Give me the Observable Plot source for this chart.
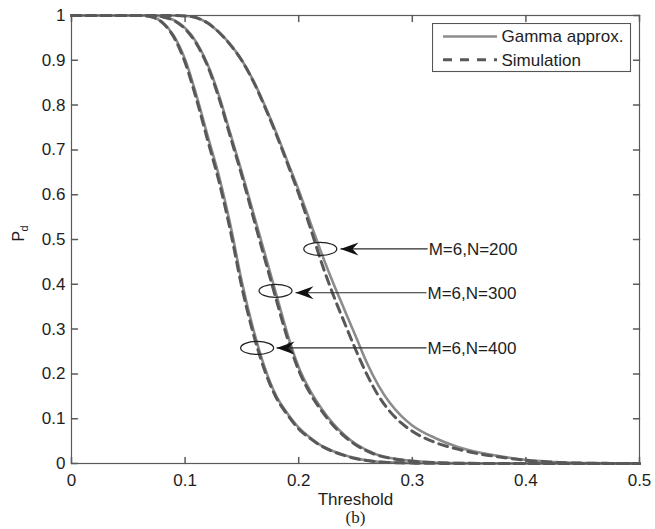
<!DOCTYPE html>
<html><head><meta charset="utf-8">
<script src="https://cdn.jsdelivr.net/npm/d3@7"></script>
<script src="https://cdn.jsdelivr.net/npm/@observablehq/plot@0.6"></script>
<style>
html,body{margin:0;padding:0;background:#fff;}
#wrap{position:relative;width:655px;height:529px;}
#legend{position:absolute;left:432px;top:23px;}
</style></head><body><div id="wrap"></div>
<script>
// Threshold grid and Pd values
const thresholds = [0, 0.05, 0.06, 0.07, 0.08, 0.09, 0.10, 0.11, 0.12, 0.13, 0.14, 0.15, 0.16, 0.17, 0.18, 0.19, 0.20, 0.21, 0.22, 0.23, 0.24, 0.25, 0.26, 0.27, 0.28, 0.29, 0.30, 0.32, 0.34, 0.36, 0.38, 0.40, 0.42, 0.45, 0.50];
const gamma400 = [1, 1, 1, 0.997, 0.985, 0.955, 0.902, 0.822, 0.73, 0.64, 0.531, 0.405, 0.30, 0.215, 0.152, 0.112, 0.08, 0.058, 0.04, 0.028, 0.019, 0.012, 0.007, 0.004, 0.0025, 0.0015, 0.001, 0.0004, 0.0001, 0, 0, 0, 0, 0, 0];
const sim400   = [1, 1, 1, 0.997, 0.984, 0.952, 0.895, 0.813, 0.72, 0.628, 0.518, 0.393, 0.29, 0.208, 0.148, 0.109, 0.077, 0.056, 0.039, 0.027, 0.018, 0.011, 0.0065, 0.0037, 0.0023, 0.0014, 0.0009, 0.0003, 0.0001, 0, 0, 0, 0, 0, 0];
const gamma300 = [1, 1, 1, 1, 0.997, 0.99, 0.972, 0.94, 0.89, 0.82, 0.735, 0.65, 0.56, 0.47, 0.38, 0.29, 0.215, 0.163, 0.123, 0.09, 0.064, 0.044, 0.03, 0.019, 0.013, 0.009, 0.006, 0.002, 0.0008, 0.0003, 0, 0, 0, 0, 0];
const sim300   = [1, 1, 1, 1, 0.997, 0.989, 0.97, 0.937, 0.886, 0.814, 0.728, 0.642, 0.55, 0.458, 0.368, 0.28, 0.208, 0.157, 0.118, 0.086, 0.061, 0.042, 0.028, 0.018, 0.012, 0.008, 0.005, 0.0018, 0.0007, 0.0002, 0, 0, 0, 0, 0];
const gamma200 = [1, 1, 1, 1, 1, 1, 0.999, 0.995, 0.983, 0.962, 0.935, 0.90, 0.855, 0.80, 0.74, 0.675, 0.61, 0.54, 0.47, 0.405, 0.345, 0.285, 0.225, 0.175, 0.136, 0.107, 0.085, 0.057, 0.037, 0.024, 0.015, 0.008, 0.004, 0.001, 0];
const sim200   = [1, 1, 1, 1, 1, 1, 0.999, 0.995, 0.983, 0.962, 0.934, 0.899, 0.853, 0.797, 0.736, 0.67, 0.602, 0.528, 0.449, 0.379, 0.316, 0.255, 0.199, 0.152, 0.117, 0.091, 0.072, 0.047, 0.032, 0.021, 0.0135, 0.0072, 0.0035, 0.0008, 0];

const xTicks = [0, 0.1, 0.2, 0.3, 0.4, 0.5];
const xTickLabels = ["0", "0.1", "0.2", "0.3", "0.4", "0.5"];
const yTicks = [0, 0.1, 0.2, 0.3, 0.4, 0.5, 0.6, 0.7, 0.8, 0.9, 1];
const yTickLabels = ["0", "0.1", "0.2", "0.3", "0.4", "0.5", "0.6", "0.7", "0.8", "0.9", "1"];

// annotations
const annLabels = ["M=6,N=200", "M=6,N=300", "M=6,N=400"];
const ellipseX = [0.219, 0.1796, 0.1634];
const ellipseY = [0.479, 0.3855, 0.258];
const arrowTipX = [0.2368, 0.1972, 0.1805];
const arrowY = [0.479, 0.381, 0.258];
const labelX = [0.3135, 0.3125, 0.3125];

const legendLabels = ["Gamma approx.", "Simulation"];

const toRows = (vals, name) => thresholds.map((t, i) => ({x: t, y: vals[i], s: name}));
const solidRows = [...toRows(gamma400, "400"), ...toRows(gamma300, "300"), ...toRows(gamma200, "200")];
const dashRows = [...toRows(sim400, "400"), ...toRows(sim300, "300"), ...toRows(sim200, "200")];
const ann = annLabels.map((l, i) => ({label: l, ex: ellipseX[i], ey: ellipseY[i], tx: arrowTipX[i], ay: arrowY[i], lx: labelX[i]}));

const ellipseSymbol = {draw(ctx) {
  const rx = 16.5, ry = 6.5, k = 0.5523;
  ctx.moveTo(rx, 0);
  ctx.bezierCurveTo(rx, ry * k, rx * k, ry, 0, ry);
  ctx.bezierCurveTo(-rx * k, ry, -rx, ry * k, -rx, 0);
  ctx.bezierCurveTo(-rx, -ry * k, -rx * k, -ry, 0, -ry);
  ctx.bezierCurveTo(rx * k, -ry, rx, -ry * k, rx, 0);
  ctx.closePath();
}};
const headSymbol = {draw(ctx) {
  ctx.moveTo(0, 0); ctx.lineTo(18, -6.5); ctx.lineTo(12, 0); ctx.lineTo(18, 6.5); ctx.closePath();
}};
const tickShape = {draw(ctx, l) { ctx.moveTo(0, 0); ctx.lineTo(0, -l); }};

const axisColor = "#5a5a5a";
const fmtX = d => xTickLabels[xTicks.indexOf(d)];
const fmtY = d => yTickLabels[yTicks.indexOf(d)];

const chart = Plot.plot({
  width: 655, height: 529,
  marginLeft: 71, marginRight: 16, marginTop: 15, marginBottom: 66,
  x: {domain: [0, 0.5]},
  y: {domain: [0, 1]},
  style: {fontFamily: "'Liberation Sans', Arial, sans-serif", fontSize: "17px", color: "#1e1e1e", background: "white", overflow: "visible"},
  marks: [
    Plot.line(solidRows, {x: "x", y: "y", z: "s", stroke: "#8c8c8c", strokeWidth: 2.6, curve: "monotone-x"}),
    Plot.line(dashRows, {x: "x", y: "y", z: "s", stroke: "#585858", strokeWidth: 3, strokeDasharray: "9,6", curve: "monotone-x"}),
    Plot.frame({stroke: axisColor, strokeWidth: 1.2}),
    Plot.vector(xTicks, {x: d => d, frameAnchor: "bottom", length: 6, rotate: 0, anchor: "start", shape: tickShape, stroke: axisColor}),
    Plot.vector(xTicks, {x: d => d, frameAnchor: "top", length: 6, rotate: 180, anchor: "start", shape: tickShape, stroke: axisColor}),
    Plot.vector(yTicks, {y: d => d, frameAnchor: "left", length: 6, rotate: 90, anchor: "start", shape: tickShape, stroke: axisColor}),
    Plot.vector(yTicks, {y: d => d, frameAnchor: "right", length: 6, rotate: -90, anchor: "start", shape: tickShape, stroke: axisColor}),
    Plot.axisX(xTicks, {anchor: "bottom", tickSize: 0, tickPadding: 10, tickFormat: fmtX, label: null}),
    Plot.axisY(yTicks, {anchor: "left", tickSize: 0, tickPadding: 6, tickFormat: fmtY, label: null}),
    Plot.text(["Threshold"], {frameAnchor: "bottom", text: d => d, dy: 36, lineAnchor: "middle", fontSize: 17}),
    Plot.text(["(b)"], {frameAnchor: "bottom", text: d => d, dy: 54, lineAnchor: "middle", fontSize: 17, fontFamily: "'Liberation Serif', 'Times New Roman', serif"}),
    Plot.text(["P"], {frameAnchor: "left", text: d => d, dx: -53, dy: 2, rotate: -90, fontSize: 16, lineAnchor: "middle"}),
    Plot.text(["d"], {frameAnchor: "left", text: d => d, dx: -47, dy: -8, rotate: -90, fontSize: 11, lineAnchor: "middle"}),
    // annotations
    Plot.dot(ann, {x: "ex", y: "ey", symbol: ellipseSymbol, r: 5, fill: "none", stroke: "#1e1e1e", strokeWidth: 1.2}),
    Plot.link(ann, {x1: "tx", y1: "ay", x2: "lx", y2: "ay", stroke: "#2a2a2a", strokeWidth: 1.1}),
    Plot.dot(ann, {x: "tx", y: "ay", symbol: headSymbol, r: 5, fill: "#111", stroke: "none"}),
    Plot.text(ann, {x: "lx", y: "ay", text: "label", textAnchor: "start", dx: 1, dy: 1, fontSize: 17, fill: "#1e1e1e"})
  ]
});

const wrap = document.getElementById("wrap");
wrap.appendChild(chart);

// legend overlay
const lg = d3.create("svg").attr("id", "legend").attr("width", 200).attr("height", 50)
  .style("font-family", "'Liberation Sans', Arial, sans-serif").style("font-size", "17px");
lg.append("rect").attr("x", 0.5).attr("y", 0.5).attr("width", 198).attr("height", 48).attr("fill", "white").attr("stroke", "#555").attr("stroke-width", 1.1);
const styles = [{stroke: "#8c8c8c", w: 2.6, dash: null}, {stroke: "#585858", w: 3, dash: "9,8"}];
legendLabels.forEach((lab, i) => {
  const yy = 13.5 + i * 23.3;
  const ln = lg.append("line").attr("x1", 11).attr("x2", 65).attr("y1", yy).attr("y2", yy)
    .attr("stroke", styles[i].stroke).attr("stroke-width", styles[i].w);
  if (styles[i].dash) ln.attr("stroke-dasharray", styles[i].dash);
  lg.append("text").attr("x", 69.5).attr("y", yy).attr("dy", "0.35em").attr("fill", "#1e1e1e").text(lab);
});
wrap.appendChild(lg.node());
</script>
</body></html>
